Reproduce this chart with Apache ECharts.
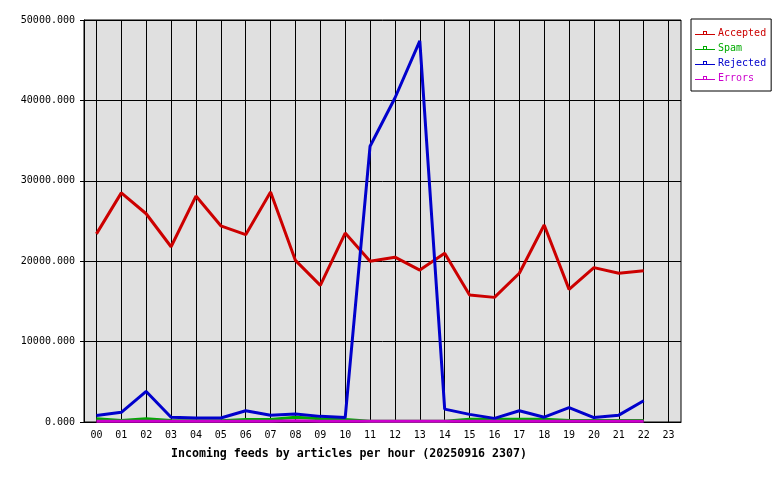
<!DOCTYPE html>
<html><head><meta charset="utf-8">
<script src="https://cdn.jsdelivr.net/npm/echarts@6/dist/echarts.min.js"></script>
<style>html,body{margin:0;padding:0;background:#fff}#c{width:780px;height:480px}</style>
</head><body><div id="c"></div>
<script>
const hours = ['00','01','02','03','04','05','06','07','08','09','10','11','12','13','14','15','16','17','18','19','20','21','22','23'];
const accepted = [23400,28500,25900,21800,28100,24400,23300,28600,20100,17000,23500,20000,20500,18900,21000,15800,15500,18500,24500,16500,19200,18500,18800,null];
const spam = [400,200,400,200,150,150,300,300,600,400,300,100,100,100,100,350,350,350,350,200,200,200,200,null];
const rejected = [800,1200,3800,600,500,500,1400,850,1000,700,550,34300,40300,47400,1600,950,450,1400,600,1800,550,850,2650,null];
const errors = [100,100,100,100,100,100,100,100,150,100,100,100,100,100,100,100,100,100,100,100,100,100,100,null];
const yTicks = {min:0, max:50000, interval:10000};
const titleText = 'Incoming feeds by articles per hour (20250916 2307)';

const colors = {Accepted:'#cc0000', Spam:'#00aa00', Rejected:'#0000cc', Errors:'#cc00cc'};
const mono = 'DejaVu Sans Mono, monospace';
const legendIcon = 'path://M0,4H20V5H0Z M8,1H12V5H8Z M9,2V4H11V2Z';
function mk(name, data){
  return {name, type:'line', data, symbol:'none', showSymbol:false,
    lineStyle:{color:colors[name], width:3}, itemStyle:{color:colors[name]}, animation:false, connectNulls:false};
}
const chart = echarts.init(document.getElementById('c'), null, {renderer:'canvas'});
chart.setOption({
  animation:false,
  backgroundColor:'#ffffff',
  title:{text:titleText, left:166, top:443, textStyle:{fontFamily:mono, fontSize:11.6, fontWeight:'bold', color:'#000'}},
  grid:{left:84, right:99, top:20, bottom:58, show:true, backgroundColor:'#e0e0e0', borderColor:'#000', borderWidth:1},
  legend:{orient:'vertical', left:691, top:19, padding:[8,5,7,4], itemGap:3, itemWidth:20, itemHeight:5,
    backgroundColor:'#fff', borderColor:'#000', borderWidth:1, borderRadius:0,
    textStyle:{fontFamily:mono, fontSize:10, padding:[0,0,0,-2], lineHeight:12},
    data:Object.keys(colors).map(n=>({name:n, icon:legendIcon, itemStyle:{color:colors[n]}, textStyle:{color:colors[n]}}))},
  xAxis:{type:'category', data:hours, boundaryGap:true,
    axisLine:{lineStyle:{color:'#000', width:1}},
    axisTick:{alignWithLabel:true, length:5, lineStyle:{color:'#000'}},
    axisLabel:{fontFamily:mono, fontSize:10, color:'#000', margin:8, interval:0},
    splitLine:{show:true, alignWithLabel:true, interval:0, lineStyle:{color:'#000', width:1}}},
  yAxis:{type:'value', min:yTicks.min, max:yTicks.max, interval:yTicks.interval,
    axisLine:{show:true, lineStyle:{color:'#000'}},
    axisTick:{show:true, length:4, lineStyle:{color:'#000'}},
    axisLabel:{fontFamily:mono, fontSize:10, color:'#000', margin:9, formatter:v=>v.toFixed(3)},
    splitLine:{show:true, lineStyle:{color:'#000', width:1}}},
  series:[mk('Accepted',accepted), mk('Spam',spam), mk('Rejected',rejected), mk('Errors',errors)]
});
</script></body></html>
